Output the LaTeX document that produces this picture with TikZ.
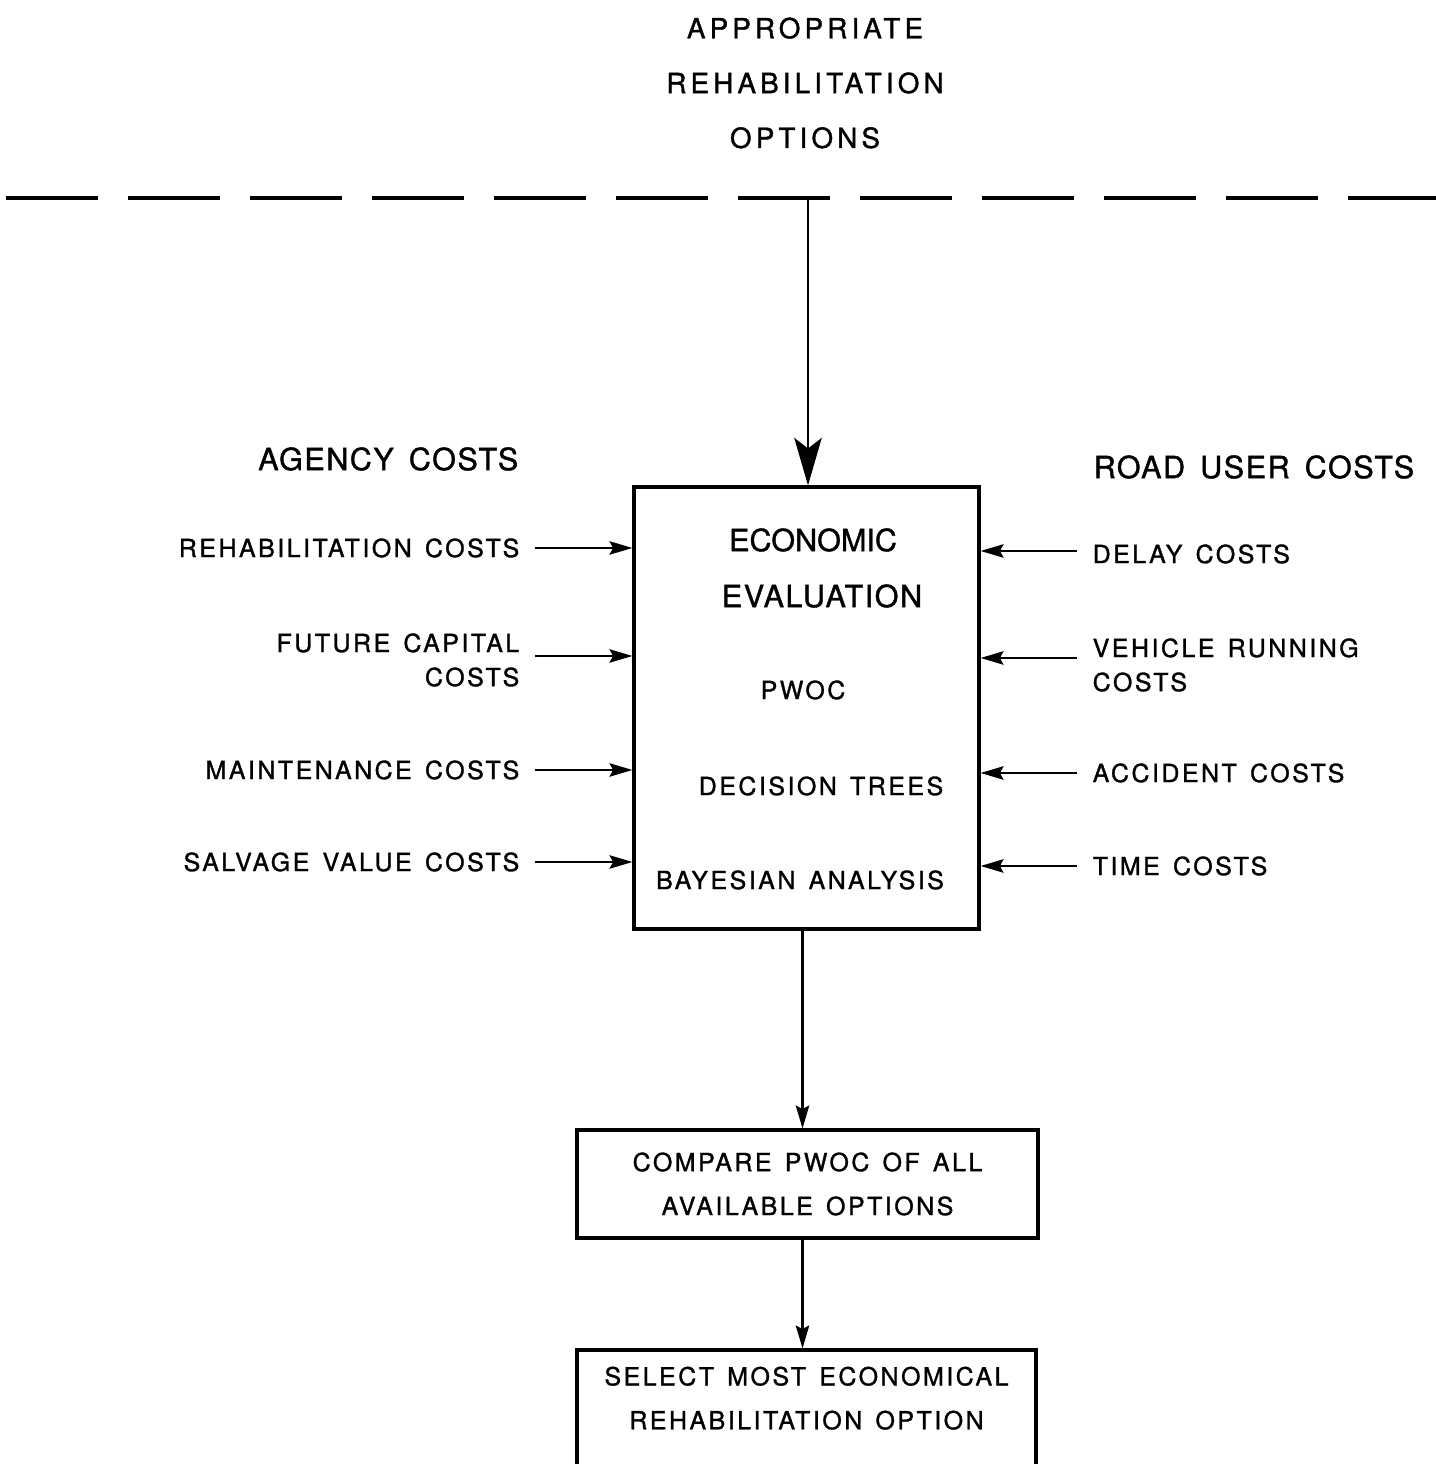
\documentclass[tikz,border=0pt]{standalone}
\usepackage{fontspec}
\setmainfont[FakeBold=1.2]{TeX Gyre Heros}
\newfontfamily\wideface[LetterSpace=10,WordSpace=1.4,FakeBold=1.2]{TeX Gyre Heros}
\newfontfamily\headface[LetterSpace=5,WordSpace=1.5,FakeBold=1.2]{TeX Gyre Heros}
\newfontfamily\titleface[LetterSpace=15,FakeBold=1.2]{TeX Gyre Heros}
\usetikzlibrary{arrows.meta,positioning}

\begin{document}
\begin{tikzpicture}[
  titletext/.style={align=center, inner sep=0pt,
                    font=\titleface\fontsize{7.9}{15.6}\selectfont},
  headtext/.style={inner sep=0pt, font=\headface\fontsize{8.7}{11}\selectfont},
  evaltext/.style={inner sep=0pt, font=\fontsize{8.7}{11}\selectfont},
  smalltext/.style={inner sep=0pt, font=\wideface\fontsize{7.1}{9.7}\selectfont},
  leftlbl/.style={smalltext, anchor=east, align=right},
  rightlbl/.style={smalltext, anchor=west, align=left},
  procbox/.style={draw, line width=0.9pt, inner sep=0pt, align=center,
                  font=\wideface\fontsize{7.1}{12.5}\selectfont},
  flow/.style={-{Stealth[length=6.5pt,width=3.8pt,inset=1pt]}, line width=0.75pt},
  inarr/.style={flow, shorten <=0.15cm},
  bigarr/.style={-{Stealth[length=13.5pt,width=7.8pt,inset=3pt]}, line width=0.75pt},
]
\useasboundingbox (0,0) rectangle (14.36,14.64);

%% options coming in from the screening stage
\node[titletext] (options) at (8.05,13.81)
      {APPROPRIATE\\REHABILITATION\\OPTIONS};

\coordinate (dashL) at (0.06,12.66);
\coordinate (dashR) at (14.36,12.66);
\coordinate (optin) at (8.08,12.66);
\draw[line width=1pt, dash pattern=on 0.92cm off 0.30cm] (dashL) -- (dashR);

%% evaluation block
\node[draw, line width=0.9pt, minimum width=3.45cm, minimum height=4.42cm]
      (eval) at (8.065,7.56) {};
\node[evaltext] (econ)  at (8.13,9.24) {ECONOMIC};
\node[evaltext, font=\headface\fontsize{8.7}{11}\selectfont]
      (evalu) at (8.22,8.68) {EVALUATION};
\node[smalltext] (pwoc)  at (8.03,7.74) {PWOC};
\node[smalltext] (trees) at (8.21,6.78) {DECISION TREES};
\node[smalltext] (bayes) at (8.00,5.84) {BAYESIAN ANALYSIS};

\draw[bigarr] (optin) -- (optin |- eval.north);

%% agency costs (left)
\node[headtext, anchor=east] (agency) at (5.19,10.05) {AGENCY COSTS};
\node[leftlbl] (rehab)   at (5.20,9.16) {REHABILITATION COSTS};
\node[leftlbl] (capital) at (5.20,8.04) {FUTURE CAPITAL\\COSTS};
\node[leftlbl] (maint)   at (5.20,6.94) {MAINTENANCE COSTS};
\node[leftlbl] (salvage) at (5.20,6.02) {SALVAGE VALUE COSTS};

\draw[inarr] (rehab.east) -- (rehab.east -| eval.west);
\draw[inarr] ([yshift=0.04cm]capital.east) -- ([yshift=0.04cm]capital.east -| eval.west);
\draw[inarr] (maint.east) -- (maint.east -| eval.west);
\draw[inarr] (salvage.east) -- (salvage.east -| eval.west);

%% road user costs (right)
\node[headtext, anchor=west] (roaduser) at (10.93,9.97) {ROAD USER COSTS};
\node[rightlbl] (delay)    at (10.92,9.10) {DELAY COSTS};
\node[rightlbl] (vehicle)  at (10.92,7.99) {VEHICLE RUNNING\\COSTS};
\node[rightlbl] (accident) at (10.92,6.91) {ACCIDENT COSTS};
\node[rightlbl] (timec)    at (10.92,5.98) {TIME COSTS};

\draw[inarr] ([yshift=0.03cm]delay.west) -- ([yshift=0.03cm]delay.west -| eval.east);
\draw[inarr] ([yshift=0.07cm]vehicle.west) -- ([yshift=0.07cm]vehicle.west -| eval.east);
\draw[inarr] (accident.west) -- (accident.west -| eval.east);
\draw[inarr] (timec.west) -- (timec.west -| eval.east);

%% comparison and selection
\node[procbox, minimum width=4.61cm, minimum height=1.08cm]
      (compare) at (8.075,2.80) {COMPARE PWOC OF ALL\\AVAILABLE OPTIONS};
\node[procbox, minimum width=4.59cm, minimum height=1.16cm, text depth=0.2cm]
      (select) at (8.065,0.56) {SELECT MOST ECONOMICAL\\REHABILITATION OPTION};

\draw[flow] ([xshift=-0.04cm]eval.south) -- ([xshift=-0.04cm]eval.south |- compare.north);
\draw[flow] ([xshift=-0.05cm]compare.south) -- ([xshift=-0.05cm]compare.south |- select.north);

\end{tikzpicture}
\end{document}
